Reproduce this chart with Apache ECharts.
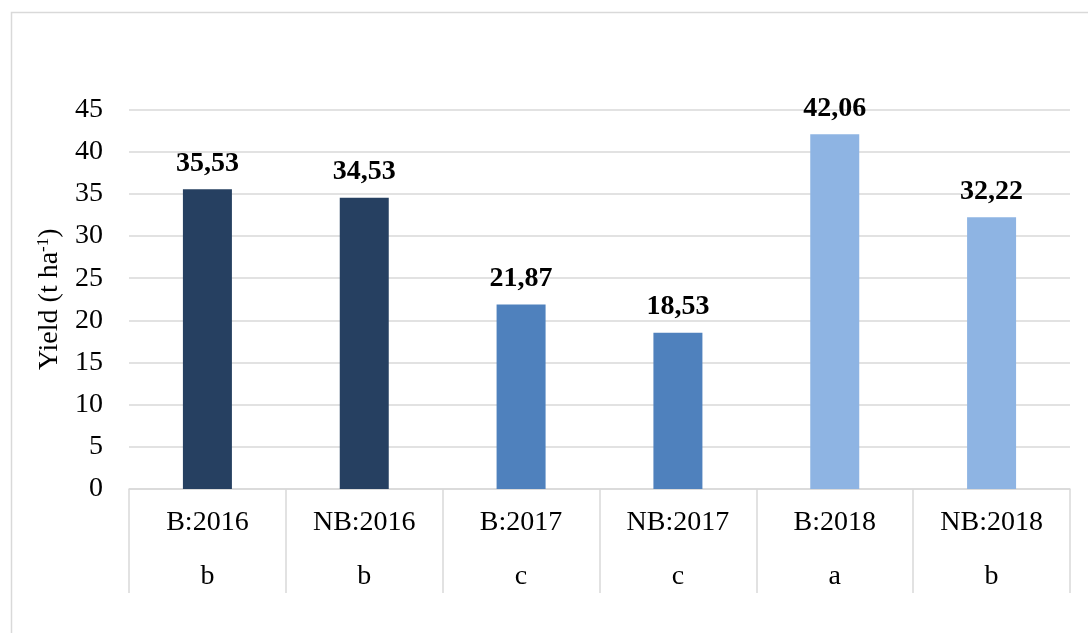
<!DOCTYPE html>
<html>
<head>
<meta charset="utf-8">
<script src="https://cdn.jsdelivr.net/npm/echarts@6/dist/echarts.min.js"></script>
<style>
  html, body { margin: 0; padding: 0; background: #fff; }
  #chart { width: 1088px; height: 633px; }
</style>
</head>
<body>
<div id="chart"></div>
<script>
// data
var categories = ['B:2016', 'NB:2016', 'B:2017', 'NB:2017', 'B:2018', 'NB:2018'];
var letters = ['b', 'b', 'c', 'c', 'a', 'b'];
var yieldValues = [35.53, 34.53, 21.87, 18.53, 42.06, 32.22];
var yTicks = [0, 45, 5]; // min, max, interval

// colours per year (style, not data)
var barColors = ['#264061', '#264061', '#4F81BD', '#4F81BD', '#8EB4E3', '#8EB4E3'];

var chart = echarts.init(document.getElementById('chart'));
var serif = '"Liberation Serif", "Times New Roman", serif';

var option = {
    animation: false,
    backgroundColor: '#fff',
    graphic: [{
        type: 'rect',
        shape: { x: 11.5, y: 12.5, width: 1100, height: 650 },
        style: { fill: 'none', stroke: '#d9d9d9', lineWidth: 1.5 },
        silent: true
    }],
    grid: { left: 129, right: 18, top: 109.5, bottom: 144 },
    xAxis: {
        type: 'category',
        data: categories,
        axisLine: { lineStyle: { color: '#d9d9d9', width: 1.5 } },
        axisTick: { show: true, interval: 0, length: 104, lineStyle: { color: '#d9d9d9', width: 1.5 } },
        axisLabel: {
            interval: 0,
            margin: 7,
            formatter: function (val, idx) {
                return '{a|' + val + '}\n{b|' + letters[idx] + '}';
            },
            rich: {
                a: { fontFamily: serif, fontSize: 28, color: '#000', lineHeight: 54 },
                b: { fontFamily: serif, fontSize: 28, color: '#000', lineHeight: 54 }
            }
        }
    },
    yAxis: {
        type: 'value',
        min: yTicks[0],
        max: yTicks[1],
        interval: yTicks[2],
        name: 'Yield (t ha{sup|-1})',
        nameLocation: 'middle',
        nameRotate: 90,
        nameGap: 65,
        nameTextStyle: {
            fontFamily: serif, fontSize: 28, color: '#000',
            rich: {
                sup: { fontFamily: serif, fontSize: 17, color: '#000', padding: [0, 0, 12, 0] }
            }
        },
        axisLine: { show: false },
        axisTick: { show: false },
        axisLabel: { fontFamily: serif, fontSize: 28, color: '#000', margin: 26 },
        splitLine: { lineStyle: { color: '#d9d9d9', width: 1.5 } }
    },
    series: [{
        type: 'bar',
        barWidth: 49,
        data: yieldValues.map(function (v, i) {
            return { value: v, itemStyle: { color: barColors[i] } };
        }),
        label: {
            show: true,
            position: 'top',
            distance: 12,
            fontFamily: serif,
            fontSize: 28,
            fontWeight: 'bold',
            color: '#000',
            formatter: function (p) {
                return p.value.toFixed(2).replace('.', ',');
            }
        }
    }]
};
chart.setOption(option);
</script>
</body>
</html>
